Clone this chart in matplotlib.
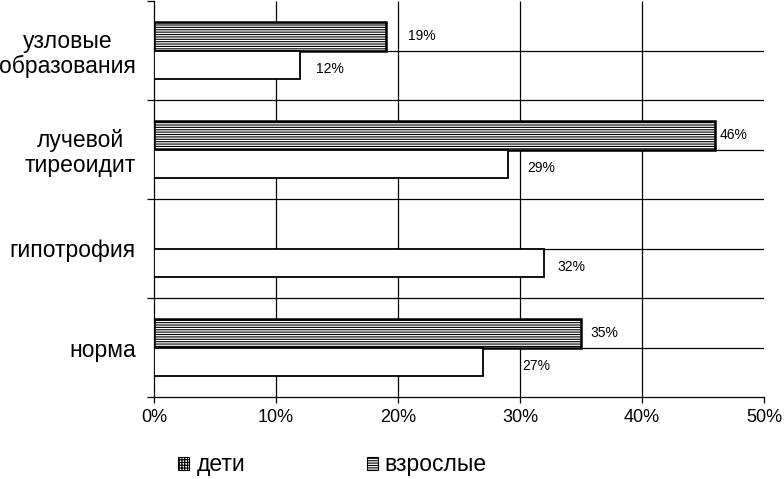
import numpy as np
import matplotlib.pyplot as plt
from matplotlib.patches import Patch

plt.rcParams['font.family'] = ['Liberation Sans', 'DejaVu Sans']
plt.rcParams['hatch.linewidth'] = 0.8

categories = ['узловые\nобразования', 'лучевой\nтиреоидит', 'гипотрофия', 'норма']
adults = [19, 46, 0, 35]      # взрослые
children = [12, 29, 32, 27]   # дети
x_ticks = [0, 10, 20, 30, 40, 50]
x_labels = ['0%', '10%', '20%', '30%', '40%', '50%']
# where the value labels start (in % units), as they sit in the picture
adult_label_x = [20.8, 46.4, None, 35.8]
child_label_x = [13.3, 30.6, 33.1, 30.2]

fig = plt.figure(figsize=(7.84, 4.79), dpi=100)
ax = fig.add_axes([154/784, 1 - 397/479, 610/784, 396/479])

n = len(categories)
centers = np.arange(n)[::-1] + 0.5   # first category on top
bh = 0.288

adult_lw = [1.8 if v > 0 else 0 for v in adults]
ax.barh(centers, adults, height=bh, align='edge', color='white',
        edgecolor='black', linewidth=adult_lw, hatch='-------', zorder=3)
ax.barh(centers - bh, children, height=bh, align='edge', color='white',
        edgecolor='black', linewidth=1.3, zorder=3)

for i in range(n):
    if adults[i] > 0:
        ax.text(adult_label_x[i], centers[i] + bh/2, '%d%%' % adults[i],
                fontsize=10, va='center', ha='left', zorder=4)
    ax.text(child_label_x[i], centers[i] - bh/2 - 0.04, '%d%%' % children[i],
            fontsize=10, va='center', ha='left', zorder=4)

# grid
ax.vlines(x_ticks[1:-1], 0, n, colors='black', linewidth=0.9, zorder=1)
half = np.arange(1, 2*n) / 2.0
ax.hlines(half, 0, x_ticks[-1], colors='black', linewidth=0.9, zorder=1)

ax.set_xlim(0, 50)
ax.set_ylim(0, n)
ax.set_xticks(x_ticks, x_labels, fontsize=13)
ax.set_yticks(np.arange(n + 1), [''] * (n + 1))
ax.set_yticks(centers, categories, minor=True, fontsize=16.5,
              ha='right', multialignment='center', linespacing=1.1)
ax.tick_params(axis='y', which='minor', length=0, pad=13)
ax.tick_params(axis='y', which='major', length=5, width=0.9, direction='out')
ax.tick_params(axis='x', length=4.5, width=0.9, pad=4)

for s in ['top', 'right']:
    ax.spines[s].set_visible(False)
for s in ['left', 'bottom']:
    ax.spines[s].set_linewidth(0.9)

handles = [Patch(facecolor='white', edgecolor='black', hatch='++++++', linewidth=0.8),
           Patch(facecolor='white', edgecolor='black', hatch='-------', linewidth=0.8)]
fig.legend(handles, ['дети', 'взрослые'], loc='center left', ncol=2,
           bbox_to_anchor=(178/784, 1 - 465/479), frameon=False, fontsize=16.5,
           handlelength=0.5, handleheight=0.5, handletextpad=0.3,
           columnspacing=5.3, borderaxespad=0, borderpad=0)

fig.savefig('out.png', dpi=100)
